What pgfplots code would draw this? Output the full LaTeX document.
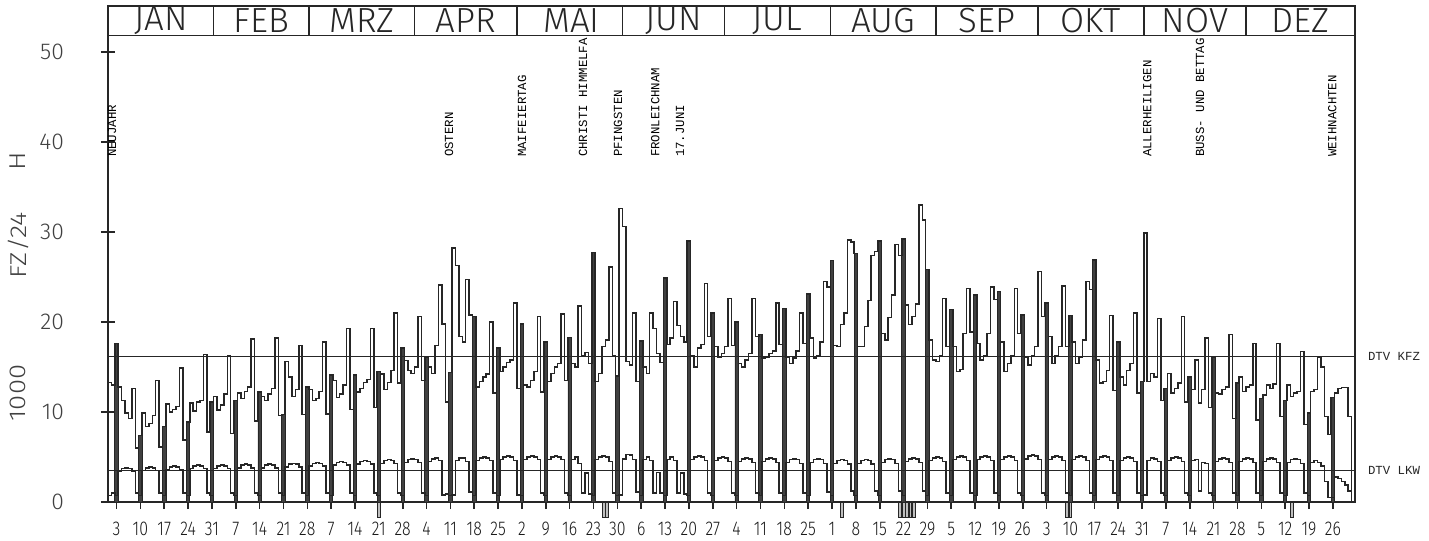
\documentclass[border=0pt]{standalone}
\usepackage{fontspec}
\setmainfont{Liberation Sans}
\newfontfamily\plotmono{Liberation Mono}
\IfFontExistsTF{Fira Sans Light}
  {\newfontfamily\thinfont{Fira Sans Light}}
  {\newfontfamily\thinfont{Liberation Sans}}
\usepackage{pgfplots}
\pgfplotsset{compat=1.18}
\usepackage{pgfplotstable}

\newcommand\sx[1]{\scalebox{0.8}[1]{#1}}
\newcommand\hol{\plotmono\fontsize{6.2}{6.2}\selectfont}
\newcommand\mon{\thinfont\fontsize{17.5}{17.5}\selectfont}
\newcommand\ylab{\thinfont\fontsize{11.5}{11.5}\selectfont}

% day of year 1982, KFZ (all vehicles) and LKW (trucks), 1000 veh/24 h
\pgfplotstableread{
d k l
0.5 13.3 0.7
1 13.3 0.7
2 13.0 1.0
3 17.6 0.7
4 12.8 3.4
5 11.3 3.7
6 9.9 3.8
7 9.3 3.7
8 12.6 3.4
9 6.0 1.0
10 7.4 0.7
11 9.9 3.5
12 8.4 3.8
13 8.7 3.9
14 9.6 3.8
15 13.5 3.5
16 6.1 1.0
17 8.4 0.7
18 10.9 3.6
19 10.0 3.9
20 10.3 4.0
21 10.6 3.9
22 14.9 3.6
23 6.9 1.0
24 8.9 0.7
25 11.0 3.7
26 10.1 4.0
27 11.1 4.1
28 11.3 4.0
29 16.4 3.7
30 7.8 1.0
31 11.1 0.7
32 11.7 3.7
33 10.2 4.0
34 10.8 4.1
35 12.0 4.0
36 16.2 3.7
37 7.6 1.0
38 11.3 0.7
39 12.1 3.8
40 11.5 4.1
41 12.3 4.2
42 12.8 4.1
43 18.1 3.8
44 9.0 1.0
45 12.2 0.7
46 11.7 3.8
47 11.3 4.1
48 12.0 4.2
49 12.6 4.1
50 18.2 3.8
51 9.6 1.0
52 9.7 0.7
53 15.6 3.9
54 13.9 4.2
55 11.7 4.3
56 12.5 4.2
57 17.4 3.9
58 9.7 1.0
59 12.8 0.7
60 12.5 4.0
61 11.3 4.3
62 11.5 4.4
63 12.3 4.3
64 17.8 4.0
65 9.8 1.0
66 14.1 0.7
67 13.5 4.1
68 11.6 4.4
69 12.0 4.5
70 13.0 4.4
71 19.3 4.1
72 10.3 1.0
73 14.1 0.7
74 12.2 4.2
75 12.6 4.5
76 13.3 4.6
77 13.6 4.5
78 19.3 4.2
79 10.5 1.0
80 14.5 0.7
81 14.2 4.3
82 12.5 4.6
83 13.3 4.7
84 14.6 4.6
85 21.0 4.3
86 13.2 1.0
87 17.1 0.7
88 15.7 4.4
89 14.6 4.7
90 14.3 4.8
91 15.0 4.7
92 20.6 4.4
93 13.5 1.0
94 16.1 0.7
95 15.0 4.5
96 14.3 4.8
97 17.4 4.9
98 24.1 4.6
99 19.8 0.8
100 11.1 0.9
101 14.4 0.7
102 28.2 0.8
103 26.3 4.6
104 18.4 4.9
105 17.8 4.9
106 24.7 4.5
107 20.8 1.1
108 20.6 0.7
109 12.8 4.6
110 13.4 4.9
111 13.9 5.0
112 14.2 4.9
113 20.0 4.6
114 12.1 1.0
115 17.1 0.7
116 14.5 4.7
117 15.0 5.0
118 15.5 5.1
119 15.8 5.0
120 22.1 4.6
121 12.6 0.8
122 19.8 0.7
123 13.0 4.7
124 12.8 5.0
125 13.5 5.1
126 14.5 5.0
127 20.6 4.7
128 12.2 1.0
129 17.8 0.7
130 13.4 4.7
131 14.3 5.0
132 15.0 5.1
133 15.4 5.0
134 20.9 4.7
135 13.5 1.0
136 18.3 0.7
137 15.4 4.7
138 15.0 5.0
139 21.8 4.3
140 16.2 1.0
141 16.6 3.2
142 15.4 0.9
143 27.7 0.7
144 13.4 4.7
145 14.3 5.0
146 17.3 5.1
147 18.0 5.0
148 26.1 4.5
149 16.3 1.0
150 14.0 0.7
151 32.6 0.8
152 30.6 4.8
153 15.6 5.3
154 15.2 5.2
155 21.0 4.7
156 13.4 1.1
157 17.9 0.7
158 15.0 4.7
159 14.3 5.0
160 21.0 4.6
161 19.3 1.0
162 16.5 3.3
163 15.5 1.0
164 24.9 0.7
165 17.5 4.7
166 18.2 5.0
167 22.3 4.6
168 19.6 1.0
169 18.4 3.2
170 17.8 0.9
171 29.0 0.7
172 16.3 4.7
173 15.0 5.0
174 17.1 5.1
175 17.5 5.0
176 24.3 4.6
177 18.4 1.0
178 21.0 0.7
179 17.3 4.6
180 16.1 4.9
181 16.5 5.0
182 17.3 4.9
183 22.6 4.5
184 17.4 1.0
185 20.0 0.7
186 15.4 4.5
187 15.0 4.8
188 15.8 4.9
189 16.5 4.8
190 22.6 4.4
191 18.4 1.0
192 18.6 0.7
193 16.0 4.5
194 16.1 4.8
195 16.5 4.9
196 16.8 4.8
197 22.1 4.4
198 17.5 1.0
199 21.5 0.7
200 16.1 4.4
201 15.4 4.7
202 16.0 4.8
203 16.8 4.7
204 21.0 4.3
205 17.6 1.0
206 23.1 0.7
207 18.2 4.4
208 16.0 4.7
209 16.2 4.8
210 17.8 4.7
211 24.5 4.3
212 23.9 1.1
213 26.8 0.7
214 17.4 4.3
215 17.3 4.6
216 19.7 4.7
217 21.0 4.6
218 29.1 4.2
219 28.9 1.2
220 27.6 0.7
221 17.3 4.3
222 17.3 4.6
223 19.5 4.7
224 22.4 4.6
225 27.4 4.2
226 27.8 1.2
227 29.0 0.7
228 18.7 4.4
229 18.0 4.7
230 20.5 4.8
231 23.0 4.7
232 28.6 4.3
233 27.4 1.2
234 29.2 0.7
235 21.9 4.5
236 19.7 4.8
237 20.6 4.9
238 22.0 4.8
239 33.0 4.4
240 31.3 1.2
241 25.8 0.7
242 18.0 4.6
243 15.8 4.9
244 15.6 5.0
245 16.2 4.9
246 22.6 4.5
247 17.3 1.0
248 21.4 0.7
249 17.3 4.7
250 14.5 5.0
251 14.7 5.1
252 18.7 5.0
253 23.7 4.6
254 18.9 1.0
255 23.0 0.7
256 17.6 4.7
257 15.8 5.0
258 16.2 5.1
259 18.7 5.0
260 23.9 4.6
261 22.5 1.0
262 23.4 0.7
263 17.8 4.7
264 14.5 5.0
265 15.4 5.1
266 16.3 5.0
267 23.7 4.6
268 18.7 1.0
269 20.8 0.7
270 16.1 4.8
271 15.2 5.1
272 16.3 5.2
273 17.3 5.1
274 25.6 4.7
275 20.6 1.0
276 22.1 0.7
277 18.4 4.7
278 15.4 5.0
279 16.3 5.1
280 17.3 5.0
281 24.0 4.6
282 17.3 1.0
283 20.7 0.7
284 17.8 4.7
285 15.4 5.0
286 16.1 5.1
287 18.0 5.0
288 24.5 4.6
289 23.6 1.0
290 26.9 0.7
291 15.8 4.7
292 13.2 5.0
293 13.4 5.1
294 14.6 5.0
295 20.7 4.6
296 12.4 1.0
297 17.8 0.7
298 13.9 4.6
299 13.0 4.9
300 14.6 5.0
301 15.4 4.9
302 21.0 4.5
303 12.1 1.0
304 13.4 0.7
305 29.9 0.8
306 13.4 4.6
307 14.3 4.9
308 13.9 4.8
309 20.4 4.5
310 11.3 1.0
311 12.6 0.7
312 14.3 4.6
313 12.1 4.9
314 12.6 5.0
315 13.2 4.9
316 20.6 4.5
317 11.1 1.0
318 13.9 0.7
319 12.5 4.6
320 15.8 4.7
321 11.0 1.2
322 12.5 4.4
323 18.2 4.3
324 10.5 1.0
325 16.1 0.7
326 12.1 4.5
327 12.0 4.8
328 12.5 4.9
329 12.8 4.8
330 18.6 4.4
331 9.3 1.0
332 13.2 0.7
333 13.9 4.5
334 12.3 4.8
335 12.8 4.9
336 13.0 4.8
337 17.6 4.4
338 9.1 1.0
339 11.5 0.7
340 11.9 4.5
341 13.0 4.8
342 12.6 4.9
343 13.1 4.8
344 17.6 4.4
345 9.5 1.0
346 11.3 0.7
347 13.0 4.4
348 11.7 4.7
349 12.1 4.8
350 12.3 4.7
351 16.7 4.3
352 8.6 1.0
353 9.9 0.7
354 12.3 4.4
355 12.5 4.6
356 16.1 4.4
357 15.0 4.0
358 9.5 2.3
359 7.5 0.5
360 11.6 0.5
361 12.1 2.8
362 12.6 2.6
363 12.7 2.3
364 12.7 1.9
365 9.5 1.2
365.4 9.5 1.2
365.5 0 0
}\daily

\begin{document}
\begin{tikzpicture}
\path[use as bounding box] (-54bp,-19.5bp) rectangle (660.5bp,251bp);
\begin{axis}[
  at={(0,0)}, anchor=south west,
  scale only axis, width=623.5bp, height=248bp,
  xmin=0.5, xmax=366.5, ymin=0, ymax=55.1,
  clip=false,
  axis line style={line width=0.9pt, black!85},
  tick style={line width=0.8pt, black!85},
  tick align=center, major tick length=7bp, tick pos=left,
  ytick={0,10,...,50},
  xtick={3,10,...,360},
  xticklabels={\sx{3},\sx{10},\sx{17},\sx{24},\sx{31},\sx{7},\sx{14},\sx{21},\sx{28},
    \sx{7},\sx{14},\sx{21},\sx{28},\sx{4},\sx{11},\sx{18},\sx{25},
    \sx{2},\sx{9},\sx{16},\sx{23},\sx{30},\sx{6},\sx{13},\sx{20},\sx{27},
    \sx{4},\sx{11},\sx{18},\sx{25},\sx{1},\sx{8},\sx{15},\sx{22},\sx{29},
    \sx{5},\sx{12},\sx{19},\sx{26},\sx{3},\sx{10},\sx{17},\sx{24},\sx{31},
    \sx{7},\sx{14},\sx{21},\sx{28},\sx{5},\sx{12},\sx{19},\sx{26}},
  xticklabel style={font=\thinfont\fontsize{10}{10}\selectfont, yshift=-3bp, text=black!90},
  yticklabel style={font=\ylab, xshift=-15bp, text=black!75},
  /pgf/number format/assume math mode=true,
]
% Sundays, filled columns
\addplot[ybar, bar width=1.0, fill=black!75, draw=black!85, line width=0.4pt] coordinates {
(3,17.6)(10,7.4)(17,8.4)(24,8.9)(31,11.1)(38,11.3)(45,12.2)(52,9.7)(59,12.8)
(66,14.1)(73,14.1)(80,14.5)(87,17.1)(94,16.1)(101,14.4)(108,20.6)(115,17.1)
(122,19.8)(129,17.8)(136,18.3)(143,27.7)(150,14.0)(157,17.9)(164,24.9)(171,29.0)
(178,21.0)(185,20.0)(192,18.6)(199,21.5)(206,23.1)(213,26.8)(220,27.6)(227,29.0)
(234,29.2)(241,25.8)(248,21.4)(255,23.0)(262,23.4)(269,20.8)(276,22.1)(283,20.7)
(290,26.9)(297,17.8)(304,13.4)(311,12.6)(318,13.9)(325,16.1)(332,13.2)(339,11.5)
(346,11.3)(353,9.9)(360,11.6)};
% marks below the axis
\addplot[ybar, bar width=0.8, fill=black!25, draw=black!85, line width=0.4pt] coordinates {
(80,-1.7)(146,-1.7)(147,-1.7)(216,-1.7)(233,-1.7)(234,-1.7)(235,-1.7)(236,-1.7)
(237,-1.7)(282,-1.7)(283,-1.7)(348,-1.7)};
\addplot[const plot mark mid, black!85, line width=0.75pt] table[x=d, y=k] {\daily};
\addplot[const plot mark mid, black!85, line width=0.75pt] table[x=d, y=l] {\daily};
% DTV lines
\addplot[black!85, line width=0.8pt] coordinates {(0.5,16.15) (366.5,16.15)};
\addplot[black!85, line width=0.8pt] coordinates {(0.5,3.5) (366.5,3.5)};

\node[anchor=west, font=\hol, text=black!85] at ([xshift=3bp]axis cs:366.5,16.15) {DTV KFZ};
\node[anchor=west, font=\hol, text=black!85] at ([xshift=3bp]axis cs:366.5,3.5) {DTV LKW};

% month band
\draw[black!85, line width=0.8pt] (axis cs:0.5,51.8) -- (axis cs:366.5,51.8);
\draw[black!85, line width=0.8pt] (axis cs:31.5,51.8) -- (axis cs:31.5,55.1);
\draw[black!85, line width=0.8pt] (axis cs:59.5,51.8) -- (axis cs:59.5,55.1);
\draw[black!85, line width=0.8pt] (axis cs:90.5,51.8) -- (axis cs:90.5,55.1);
\draw[black!85, line width=0.8pt] (axis cs:120.5,51.8) -- (axis cs:120.5,55.1);
\draw[black!85, line width=0.8pt] (axis cs:151.5,51.8) -- (axis cs:151.5,55.1);
\draw[black!85, line width=0.8pt] (axis cs:181.5,51.8) -- (axis cs:181.5,55.1);
\draw[black!85, line width=0.8pt] (axis cs:212.5,51.8) -- (axis cs:212.5,55.1);
\draw[black!85, line width=0.8pt] (axis cs:243.5,51.8) -- (axis cs:243.5,55.1);
\draw[black!85, line width=0.8pt] (axis cs:273.5,51.8) -- (axis cs:273.5,55.1);
\draw[black!85, line width=0.8pt] (axis cs:304.5,51.8) -- (axis cs:304.5,55.1);
\draw[black!85, line width=0.8pt] (axis cs:334.5,51.8) -- (axis cs:334.5,55.1);
\node[font=\mon, text=black!85] at (axis cs:16,53.45) {JAN};
\node[font=\mon, text=black!85] at (axis cs:45.5,53.45) {FEB};
\node[font=\mon, text=black!85] at (axis cs:75,53.45) {MRZ};
\node[font=\mon, text=black!85] at (axis cs:105.5,53.45) {APR};
\node[font=\mon, text=black!85] at (axis cs:136.5,53.45) {MAI};
\node[font=\mon, text=black!85] at (axis cs:166.5,53.45) {JUN};
\node[font=\mon, text=black!85] at (axis cs:197,53.45) {JUL};
\node[font=\mon, text=black!85] at (axis cs:228,53.45) {AUG};
\node[font=\mon, text=black!85] at (axis cs:258.5,53.45) {SEP};
\node[font=\mon, text=black!85] at (axis cs:289,53.45) {OKT};
\node[font=\mon, text=black!85] at (axis cs:319.5,53.45) {NOV};
\node[font=\mon, text=black!85] at (axis cs:350.5,53.45) {DEZ};

% holidays
\node[rotate=90, anchor=west, inner sep=0pt, font=\hol] at (axis cs:1.7,38.3) {NEUJAHR};
\node[rotate=90, anchor=west, inner sep=0pt, font=\hol] at (axis cs:100.6,38.3) {OSTERN};
\node[rotate=90, anchor=west, inner sep=0pt, font=\hol] at (axis cs:122,38.3) {MAIFEIERTAG};
\node[rotate=90, anchor=west, inner sep=0pt, font=\hol] at (axis cs:139.9,38.3) {CHRISTI HIMMELFA};
\node[rotate=90, anchor=west, inner sep=0pt, font=\hol] at (axis cs:150.2,38.3) {PFINGSTEN};
\node[rotate=90, anchor=west, inner sep=0pt, font=\hol] at (axis cs:161.1,38.3) {FRONLEICHNAM};
\node[rotate=90, anchor=west, inner sep=0pt, font=\hol] at (axis cs:168.4,38.3) {17.JUNI};
\node[rotate=90, anchor=west, inner sep=0pt, font=\hol] at (axis cs:305.5,38.3) {ALLERHEILIGEN};
\node[rotate=90, anchor=west, inner sep=0pt, font=\hol] at (axis cs:321,38.3) {BUSS- UND BETTAG};
\node[rotate=90, anchor=west, inner sep=0pt, font=\hol] at (axis cs:359.8,38.3) {WEIHNACHTEN};

% y label
\node[rotate=90, font=\ylab, text=black!75] at ([xshift=-45bp]axis cs:0.5,12.1) {\scalebox{1.2}[1]{1000}};
\node[rotate=90, font=\ylab, text=black!75] at ([xshift=-45bp]axis cs:0.5,28.5) {\scalebox{1.2}[1]{FZ/24}};
\node[rotate=90, font=\ylab, text=black!75] at ([xshift=-45bp]axis cs:0.5,37.8) {\scalebox{1.2}[1]{H}};
\end{axis}
\end{tikzpicture}
\end{document}
